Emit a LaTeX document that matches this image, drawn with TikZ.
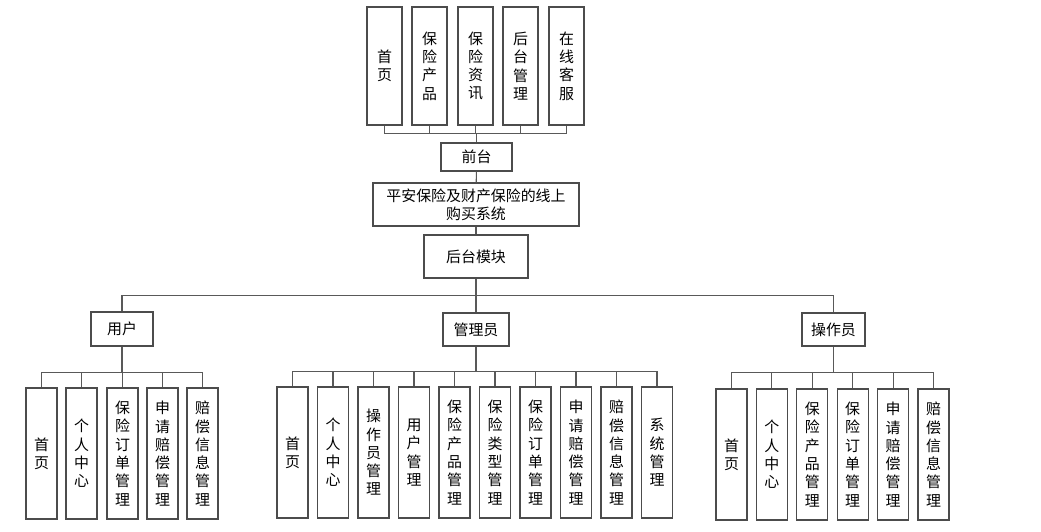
\documentclass[tikz,border=0pt]{standalone}
\usepackage{fontspec}
\setmainfont{Noto Sans CJK SC}
\usetikzlibrary{positioning}

\tikzset{
  box/.style={draw=black!70, line width=0.7pt, fill=white, align=center,
    inner sep=0pt, font=\fontsize{8.5pt}{10.4pt}\selectfont},
  topbox/.style={box, minimum width=0.7cm, minimum height=2.36cm},
  leaf/.style={box, minimum width=0.62cm, minimum height=2.62cm},
  link/.style={draw=black!65, line width=0.6pt},
}

\begin{document}
\begin{tikzpicture}[x=0.02cm, y=-0.02cm]
\useasboundingbox (0,0) rectangle (1041,531);

% front pages
\foreach \n/\x/\descr in {1/384.5/首\\页, 2/429.5/保\\险\\产\\品, 3/475.5/保\\险\\资\\讯,
  4/520.5/后\\台\\管\\理, 5/566.5/在\\线\\客\\服}
  \node[topbox] (t\n) at (\x,66) {\descr};

% main chain
\node[box, minimum width=1.42cm, minimum height=0.56cm] (front) at (476.5,157) {前台};
\node[box, minimum width=4.12cm, minimum height=0.86cm] (sys) at (476,204.5)
  {平安保险及财产保险的线上\\购买系统};
\node[box, minimum width=2.08cm, minimum height=0.86cm] (back) at (476,256.5) {后台模块};

% roles
\node[box, minimum width=1.24cm, minimum height=0.68cm] (user) at (122,329) {用户};
\node[box, minimum width=1.32cm, minimum height=0.66cm] (admin) at (476,329.5) {管理员};
\node[box, minimum width=1.26cm, minimum height=0.66cm] (oper) at (833.5,329.5) {操作员};

% leaves of user
\foreach \n/\x/\descr in {1/41.5/首\\页, 2/81.5/个\\人\\中\\心, 3/122.5/保\\险\\订\\单\\管\\理,
  4/162.5/申\\请\\赔\\偿\\管\\理, 5/202.5/赔\\偿\\信\\息\\管\\理}
  \node[leaf] (u\n) at (\x,453.5) {\descr};

% leaves of admin
\foreach \n/\x/\descr in {1/292.5/首\\页, 2/333/个\\人\\中\\心, 3/373.5/操\\作\\员\\管\\理,
  4/414/用\\户\\管\\理, 5/454.5/保\\险\\产\\品\\管\\理, 6/495/保\\险\\类\\型\\管\\理,
  7/535.5/保\\险\\订\\单\\管\\理, 8/576/申\\请\\赔\\偿\\管\\理, 9/616.5/赔\\偿\\信\\息\\管\\理,
  10/657/系\\统\\管\\理}
  \node[leaf] (a\n) at (\x,452.5) {\descr};

% leaves of operator
\foreach \n/\x/\descr in {1/731.5/首\\页, 2/771.9/个\\人\\中\\心, 3/812.3/保\\险\\产\\品\\管\\理,
  4/852.7/保\\险\\订\\单\\管\\理, 5/893.1/申\\请\\赔\\偿\\管\\理, 6/933.5/赔\\偿\\信\\息\\管\\理}
  \node[leaf] (o\n) at (\x,454.5) {\descr};

% connectors
\foreach \n in {1,...,5}
  \draw[link] (t\n.south) -- ++(0,8) -| (front.north);
\draw[link] (front) -- (sys);
\draw[link] (sys) -- (back);
\foreach \r in {user,admin,oper}
  \draw[link] (back.south) -- ++(0,17) -| (\r.north);
\foreach \n in {1,...,5}
  \draw[link] (user.south) -- ++(0,26) -| (u\n.north);
\foreach \n in {1,...,10}
  \draw[link] (admin.south) -- ++(0,25) -| (a\n.north);
\foreach \n in {1,...,6}
  \draw[link] (oper.south) -- ++(0,26) -| (o\n.north);
\end{tikzpicture}
\end{document}
